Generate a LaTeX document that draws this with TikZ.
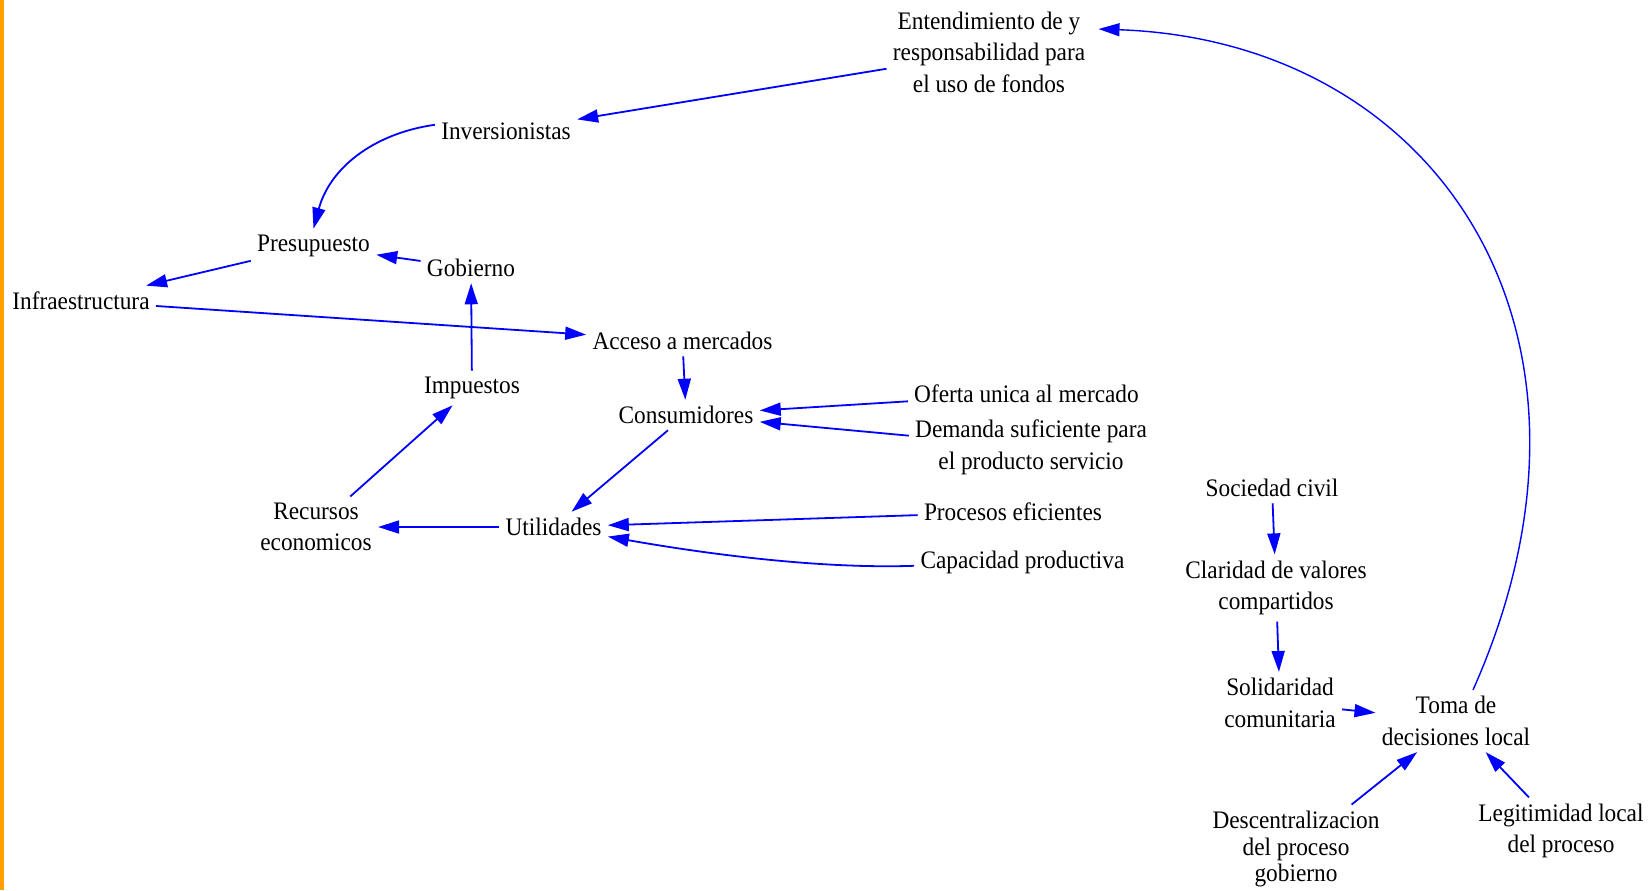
\documentclass[tikz,border=0pt]{standalone}
\usepackage{fontspec}
\setmainfont{Liberation Serif}[FakeStretch=0.925]
\usepackage{xcolor}
\usepackage{tikz}
\usetikzlibrary{arrows.meta}

\definecolor{linkblue}{RGB}{0,0,255}
\definecolor{barorange}{RGB}{255,160,0}

\begin{document}
\begin{tikzpicture}[x=0.5pt, y=-0.5pt,
    >={Triangle[length=10.5pt,width=6.5pt]},
    var/.style={align=center, inner sep=3pt, font=\fontsize{12.6}{15.8}\selectfont},
    vartight/.style={var, font=\fontsize{12.6}{13.3}\selectfont},
    link/.style={->, draw=linkblue, line width=0.9pt}]
\useasboundingbox (0,0) rectangle (1652,890);
\fill[barorange] (0,0) rectangle (3.7,890);

    \node (Entendimiento) [var] at (989,52) {Entendimiento de y\\responsabilidad para\\el uso de fondos};
    \node (Inversionistas) [var] at (506,131) {Inversionistas};
    \node (Presupuesto) [var] at (313.5,246) {Presupuesto};
    \node (Gobierno) [var] at (471,268) {Gobierno};
    \node (Infraestructura) [var] at (81,301) {Infraestructura};
    \node (Acceso) [var] at (682.5,341) {Acceso a mercados};
    \node (Impuestos) [var] at (472,388) {Impuestos};
    \node (Consumidores) [var] at (686,415) {Consumidores};
    \node (Oferta) [var] at (1026.5,394) {Oferta unica al mercado};
    \node (Demanda) [var] at (1031,447) {Demanda suficiente para\\el producto servicio};
    \node (Recursos) [var] at (316,527) {Recursos\\economicos};
    \node (Utilidades) [var] at (553.5,527) {Utilidades};
    \node (Procesos) [var] at (1013,512) {Procesos eficientes};
    \node (Capacidad) [var] at (1022.5,562) {Capacidad productiva};
    \node (Sociedad) [var] at (1272,488) {Sociedad civil};
    \node (Claridad) [var] at (1276,588) {Claridad de valores\\compartidos};
    \node (Solidaridad) [var] at (1280,703) {Solidaridad\\comunitaria};
    \node (Toma) [var] at (1456,721) {Toma de\\decisiones local};
    \node (Descentralizacion) [vartight] at (1296,849) {Descentralizacion\\del proceso\\gobierno};
    \node (Legitimidad) [var] at (1561,831) {Legitimidad local\\del proceso};

    \draw[link] (Entendimiento) -- (Inversionistas);
    \draw[link] (Inversionistas.175) to[out=188, in=75] (Presupuesto.north);
    \draw[link] (Presupuesto) -- (Infraestructura);
    \draw[link] (Gobierno) -- (Presupuesto);
    \draw[link] (Infraestructura) -- (Acceso);
    \draw[link] (Impuestos) -- (Gobierno);
    \draw[link] (Recursos) -- (Impuestos);
    \draw[link] (Utilidades) -- (Recursos);
    \draw[link] (Acceso) -- (Consumidores);
    \draw[link] (Consumidores) -- (Utilidades);
    \draw[link] (Oferta) -- (Consumidores);
    \draw[link] (Demanda) -- (Consumidores);
    \draw[link] (Procesos) -- (Utilidades);
    \draw[link] (Capacidad) to[out=182, in=-10, looseness=0.8] (Utilidades);
    \draw[link] (Sociedad) -- (Claridad);
    \draw[link] (Claridad) -- (Solidaridad);
    \draw[link] (Solidaridad) -- (Toma);
    \draw[link] (Descentralizacion) -- (Toma);
    \draw[link] (Legitimidad) -- (Toma);
%    long loop back to the top
    \draw[link, line width=0.7pt] ([xshift=8.5pt]Toma.north) .. controls +(159,-357) and +(340,12) .. ([shift={(3.5pt,11.5pt)}]Entendimiento.east);

\end{tikzpicture}
\end{document}
